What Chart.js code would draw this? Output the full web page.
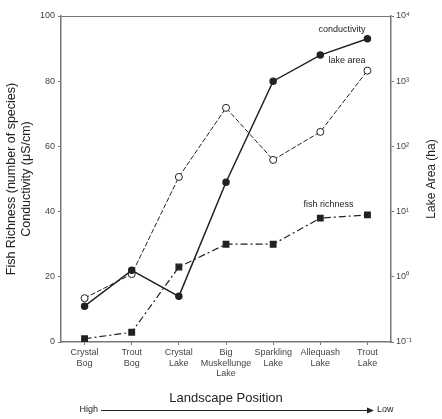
<!DOCTYPE html>
<html>
<head>
<meta charset="utf-8">
<script src="https://cdn.jsdelivr.net/npm/chart.js@4"></script>
<style>
  html, body { margin: 0; padding: 0; background: #fff; }
  #wrap { width: 442px; height: 419px; }
</style>
</head>
<body>
<div id="wrap"><canvas id="chart" width="442" height="419"></canvas></div>
<script>
const lakes = [["Crystal", "Bog"], ["Trout", "Bog"], ["Crystal", "Lake"], ["Big", "Muskellunge", "Lake"], ["Sparkling", "Lake"], ["Allequash", "Lake"], ["Trout", "Lake"]];
const conductivity = [11, 22, 14, 49, 80, 88, 93];
const lakeArea = [0.47, 1.1, 34, 390, 62, 167, 1450];
const fishRichness = [1, 3, 23, 30, 30, 38, 39];
const leftTicks = [0, 20, 40, 60, 80, 100];
const rightTicks = [0.1, 1, 10, 100, 1000, 10000];
const rightTickLabels = ["10\u207B\u00B9", "10\u2070", "10\u00B9", "10\u00B2", "10\u00B3", "10\u2074"];

const ink = "#222";
const axisGray = "#777";
const font = "Arial, 'Liberation Sans', sans-serif";

// series names written next to the last points, plus the frame, right title and x-axis arrow
const extras = {
    id: "extras",
    afterDraw(c) {
        const ctx = c.ctx;
        const a = c.chartArea;
        const x = c.scales.x, yl = c.scales.y, yr = c.scales.y2;
        const last = lakes.length - 1;
        ctx.save();
        ctx.strokeStyle = axisGray;
        ctx.lineWidth = 1;
        ctx.beginPath();
        ctx.moveTo(a.left, a.top + 0.5);
        ctx.lineTo(a.right, a.top + 0.5);
        ctx.stroke();

        ctx.fillStyle = ink;
        ctx.font = "9px " + font;
        ctx.textAlign = "right";
        ctx.textBaseline = "bottom";
        const px = x.getPixelForValue(last);
        ctx.fillText("conductivity", px - 2, yl.getPixelForValue(conductivity[last]) - 5);
        ctx.fillText("lake area", px - 2, yr.getPixelForValue(lakeArea[last]) - 6);
        ctx.fillText("fish richness", px - 14, yl.getPixelForValue(fishRichness[last]) - 6);

        // right axis title reads bottom to top
        ctx.save();
        ctx.translate(432, (a.top + a.bottom) / 2);
        ctx.rotate(-Math.PI / 2);
        ctx.textAlign = "center";
        ctx.textBaseline = "middle";
        ctx.font = "12px " + font;
        ctx.fillText("Lake Area (ha)", 0, 0);
        ctx.restore();

        ctx.textAlign = "center";
        ctx.textBaseline = "middle";
        ctx.font = "13px " + font;
        ctx.fillText("Landscape Position", (a.left + a.right) / 2, 398);

        const ay = 410;
        ctx.font = "9px " + font;
        ctx.textAlign = "right";
        ctx.fillText("High", 98, ay);
        ctx.textAlign = "left";
        ctx.fillText("Low", 377, ay);
        ctx.strokeStyle = ink;
        ctx.beginPath();
        ctx.moveTo(101, ay + 0.5);
        ctx.lineTo(372, ay + 0.5);
        ctx.stroke();
        ctx.beginPath();
        ctx.moveTo(374, ay + 0.5);
        ctx.lineTo(367, ay - 2.5);
        ctx.lineTo(367, ay + 3.5);
        ctx.closePath();
        ctx.fill();
        ctx.restore();
    }
};

new Chart(document.getElementById("chart"), {
    type: "line",
    data: {
        labels: lakes,
        datasets: [
            {
                label: "conductivity",
                data: conductivity,
                yAxisID: "y",
                borderColor: ink,
                borderWidth: 1.5,
                backgroundColor: ink,
                pointStyle: "circle",
                pointRadius: 3,
                tension: 0
            },
            {
                label: "lake area",
                data: lakeArea,
                yAxisID: "y2",
                borderColor: ink,
                borderWidth: 1,
                borderDash: [5, 2],
                backgroundColor: "#fff",
                pointBorderColor: ink,
                pointBorderWidth: 1,
                pointStyle: "circle",
                pointRadius: 3.5,
                tension: 0
            },
            {
                label: "fish richness",
                data: fishRichness,
                yAxisID: "y",
                borderColor: ink,
                borderWidth: 1.2,
                borderDash: [7, 3, 2, 3],
                backgroundColor: ink,
                pointStyle: "rect",
                pointRadius: 4,
                tension: 0
            }
        ]
    },
    options: {
        responsive: false,
        animation: false,
        layout: { padding: { top: 16, bottom: 32, left: 0, right: 0 } },
        plugins: {
            legend: { display: false },
            tooltip: { enabled: false }
        },
        scales: {
            x: {
                offset: true,
                afterFit: s => { s.height = 45; },
                border: { color: axisGray, width: 1.5 },
                grid: { offset: false, drawOnChartArea: false, drawTicks: true, tickLength: 3, color: axisGray },
                ticks: { color: "#444", font: { size: 9, family: font }, maxRotation: 0, autoSkip: false, padding: 2 }
            },
            y: {
                position: "left",
                min: 0,
                max: 100,
                afterFit: s => { s.width = 61; },
                afterBuildTicks: s => { s.ticks = leftTicks.map(v => ({ value: v })); },
                border: { color: axisGray, width: 1.5 },
                grid: { drawOnChartArea: false, drawTicks: true, tickLength: 3, color: axisGray },
                ticks: { color: "#444", font: { size: 9, family: font }, padding: 3 },
                title: {
                    display: true,
                    text: ["Fish Richness (number of species)", "Conductivity (\u03BCS/cm)"],
                    color: ink,
                    font: { size: 12.5, family: font },
                    padding: { top: 4, bottom: 2 }
                }
            },
            y2: {
                type: "logarithmic",
                position: "right",
                min: 0.1,
                max: 10000,
                afterFit: s => { s.width = 51; },
                afterBuildTicks: s => { s.ticks = rightTicks.map(v => ({ value: v })); },
                border: { color: axisGray, width: 1.5 },
                grid: { drawOnChartArea: false, drawTicks: true, tickLength: 3, color: axisGray },
                ticks: {
                    color: "#444",
                    font: { size: 9, family: font },
                    padding: 2,
                    callback: v => rightTickLabels[rightTicks.indexOf(v)] ?? ""
                }
            }
        }
    },
    plugins: [extras]
});
</script>
</body>
</html>
